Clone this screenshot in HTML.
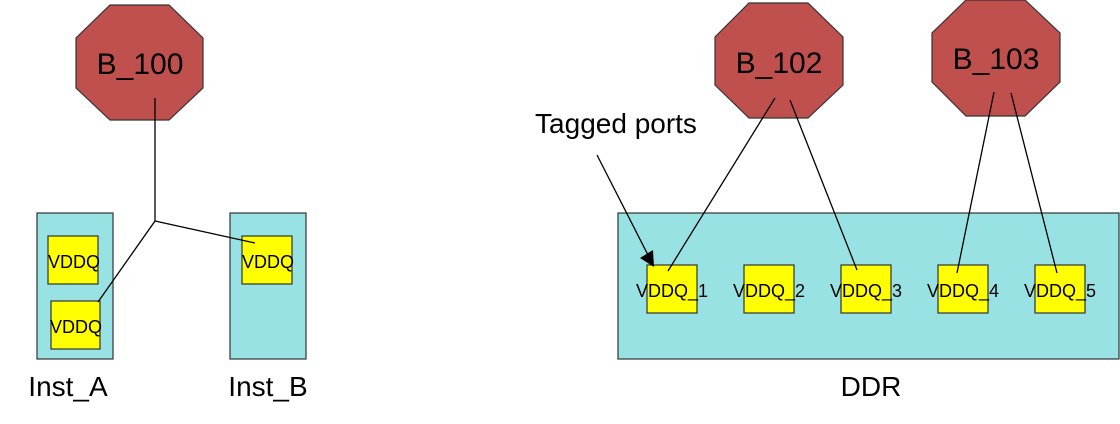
<!DOCTYPE html>
<html><head><style>
html,body{margin:0;padding:0;background:#fff;}
svg{display:block;}
text{font-family:"Liberation Sans",sans-serif;fill:#000;}
</style></head><body>
<svg width="1120" height="424" viewBox="0 0 1120 424" xmlns="http://www.w3.org/2000/svg">
<g stroke="#333" stroke-width="1.2">
<polygon points="110,5 169,5 203,38 203,88 169,120 110,120 76,88 76,38" fill="#c0504d"/>
<polygon points="749,3 808,3 843,37 843,85 808,118 749,118 715,85 715,37" fill="#c0504d"/>
<polygon points="966,0 1025,0 1060,33 1060,82 1025,116 966,116 932,82 932,33" fill="#c0504d"/>
<rect x="37" y="213" width="76" height="146" fill="#98e2e3"/>
<rect x="230" y="213" width="76" height="146" fill="#98e2e3"/>
<rect x="618" y="213" width="501" height="146" fill="#98e2e3"/>
<rect x="48" y="236" width="50" height="48" fill="#ffff00"/>
<rect x="51" y="301" width="49" height="48" fill="#ffff00"/>
<rect x="242" y="236" width="50" height="48" fill="#ffff00"/>
<rect x="647" y="265" width="50" height="48" fill="#ffff00"/>
<rect x="744" y="265" width="50" height="48" fill="#ffff00"/>
<rect x="841" y="265" width="50" height="48" fill="#ffff00"/>
<rect x="938" y="265" width="50" height="48" fill="#ffff00"/>
<rect x="1035" y="265" width="50" height="48" fill="#ffff00"/>
</g>
<g stroke="#000" stroke-width="1.3" fill="none">
<polyline points="155,98 155,221 98,302"/>
<line x1="155" y1="221" x2="255" y2="243"/>
<line x1="775" y1="98" x2="668" y2="271"/>
<line x1="790" y1="100" x2="857" y2="270"/>
<line x1="994" y1="92" x2="957" y2="273"/>
<line x1="1011" y1="93" x2="1057" y2="273"/>
<line x1="597" y1="155" x2="648" y2="255"/>
</g>
<polygon points="640,258 653,250 654,267" fill="#000"/>
<g font-size="30" text-anchor="middle">
<text x="140" y="74">B_100</text>
<text x="779" y="73">B_102</text>
<text x="996" y="69">B_103</text>
</g>
<g font-size="28" text-anchor="middle">
<text x="68" y="396">Inst_A</text>
<text x="268" y="396">Inst_B</text>
<text x="871" y="396">DDR</text>
<text x="616" y="133">Tagged ports</text>
</g>
<g font-size="18" text-anchor="middle">
<text x="74" y="268">VDDQ</text>
<text x="76" y="333">VDDQ</text>
<text x="268" y="268">VDDQ</text>
<text x="672" y="297">VDDQ_1</text>
<text x="769" y="297">VDDQ_2</text>
<text x="866" y="297">VDDQ_3</text>
<text x="963" y="297">VDDQ_4</text>
<text x="1060" y="297">VDDQ_5</text>
</g>
</svg>
</body></html>
